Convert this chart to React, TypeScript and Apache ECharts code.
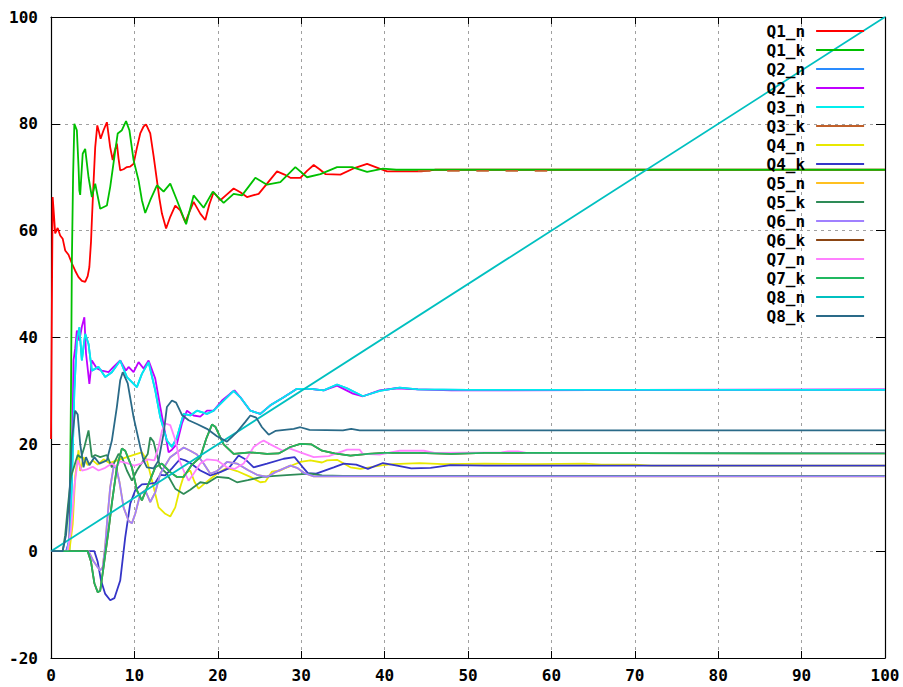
import React, { useEffect, useRef } from "react";
import * as echarts from "echarts";

const seriesNames = ["Q1_n", "Q1_k", "Q2_n", "Q2_k", "Q3_n", "Q3_k", "Q4_n", "Q4_k", "Q5_n", "Q5_k", "Q6_n", "Q6_k", "Q7_n", "Q7_k", "Q8_n", "Q8_k"];
const seriesColors = ["#ff0000", "#00c000", "#2a8cff", "#c000ff", "#00eeee", "#c0602a", "#e8e800", "#3535c8", "#ffc020", "#2e8b57", "#a080ff", "#8b4513", "#ff80ff", "#20b860", "#00c0c0", "#2a6a88"];

const xTicks = [0, 10, 20, 30, 40, 50, 60, 70, 80, 90, 100];
const yTicks = [-20, 0, 20, 40, 60, 80, 100];

const q1n = [[0,21],[0.1,45],[0.2,66.3],[0.35,63],[0.5,59.5],[0.8,60.5],[1.1,59.1],[1.4,58.5],[1.7,56.3],[2.1,55.5],[2.5,53.9],[2.9,52.5],[3.3,51.3],[3.7,50.6],[4.1,50.4],[4.4,51.5],[4.6,53.2],[4.8,58],[4.9,61.9],[5.1,69],[5.3,75.6],[5.55,79.7],[5.75,78.5],[5.95,77.2],[6.3,78.8],[6.7,80.3],[6.9,78],[7.1,75.6],[7.4,73.2],[7.65,75],[7.9,76.3],[8.1,73.5],[8.3,71.3],[8.7,71.5],[9.1,71.9],[9.5,72.0],[9.9,72.5],[10.3,75.5],[10.7,78.2],[11.1,79.5],[11.4,79.9],[11.9,78.2],[12.3,74],[12.7,69.4],[13.0,66],[13.3,63.2],[13.8,60.4],[14.3,62.6],[14.9,64.7],[15.5,63.8],[16.1,61.6],[16.6,63.5],[17.1,65.4],[17.9,63.2],[18.5,62.0],[19.0,65],[19.5,67.2],[20.3,65.7],[21.1,66.8],[21.9,67.9],[22.7,67.2],[23.5,66.3],[24.2,66.6],[24.9,66.9],[26.0,69],[27.1,71.1],[28.0,70.5],[28.7,69.9],[29.9,69.9],[30.7,71.2],[31.5,72.3],[32.2,71.5],[32.9,70.6],[34.7,70.5],[36.2,71.6],[37.9,72.5],[39.4,71.6],[40.3,71.1],[44.4,71.1],[46,71.4],[100,71.4]];
const q1k = [[0,0],[2.2,0],[2.4,30],[2.5,53.9],[2.65,70.4],[2.8,80],[3.1,78.8],[3.3,72],[3.4,67.5],[3.5,66.7],[3.8,74.4],[4.1,75.3],[4.5,70],[4.9,66.3],[5.3,68.8],[5.9,64.1],[6.7,64.7],[7.1,68.2],[7.6,73.8],[8.0,78.2],[8.5,78.8],[9.0,80.5],[9.4,78.8],[9.9,73.2],[10.5,69.4],[10.9,65.7],[11.3,63.3],[11.9,65.7],[12.7,68.5],[13.5,67.3],[14.3,68.8],[15.1,65.7],[16.2,61.2],[17.1,66.6],[18.3,64.3],[19.4,67.3],[20.7,65.2],[21.9,66.9],[22.9,66.6],[24.5,69.9],[25.9,68.6],[27.5,69.1],[29.3,71.9],[30.7,70],[32.3,70.6],[34.3,71.9],[36.1,71.9],[37.9,71],[39.8,71.6],[41.4,71.4],[100,71.4]];
const q2k = [[0,0],[1.8,0],[2.2,2],[2.5,15],[2.7,35.7],[2.9,38],[3.1,41.3],[3.4,39.4],[3.7,42],[4.0,43.8],[4.2,37],[4.6,31.3],[4.9,35.7],[5.5,34.2],[6.1,33.8],[6.9,33.5],[7.5,34.5],[8.3,35.7],[9.0,33.8],[9.3,34.5],[9.9,33.5],[10.5,35.4],[11.1,34.2],[11.7,35.7],[12.5,32.3],[13.1,27],[13.7,22],[14.1,18.5],[14.5,19.0],[15.1,20.1],[15.7,23.9],[16.3,26.3],[17.1,25.4],[17.9,25.2],[18.7,26.3],[19.5,26.3],[20.5,28.2],[21.5,29.5],[22.0,30.1],[22.7,28.8],[23.9,26.3],[25.1,25.7],[26.3,27.3],[27.9,28.8],[29.5,30.4],[31.1,30.4],[32.7,30.1],[34.3,31.0],[36.2,29.5],[37.4,29.0],[39.4,30.1],[41.4,30.5],[44,30.3],[48,30.1],[100,30.3]];
const q3n = [[0,0],[1.9,0],[2.3,3],[2.6,18],[2.8,30],[3.1,39.5],[3.4,41.9],[3.7,35.7],[4.1,40.7],[4.5,38.8],[4.9,33.8],[5.7,34.5],[6.5,32.6],[7.3,33.5],[8.3,35.7],[9.1,32.6],[10.3,30.7],[10.9,33.2],[11.7,35.4],[12.5,30.1],[13.1,25.1],[13.9,20.7],[14.5,19.5],[15.1,21.3],[15.9,25.7],[16.7,25.4],[17.5,26.3],[18.7,25.7],[19.5,26.3],[20.7,28.2],[21.9,30.0],[22.7,28.8],[23.9,26.3],[25.1,25.7],[26.3,27.3],[27.9,28.8],[29.5,30.4],[31.1,30.4],[32.7,30.1],[34.3,31.2],[35.5,30.5],[37.4,29.0],[39.4,30.0],[41.8,30.6],[44,30.3],[50,30.2],[100,30.2]];
const q2n = q3n;
const q3k = [[44,71.2],[45.5,71.2],[46,"-"],[47.5,71.2],[49,71.2],[49.5,"-"],[51,71.2],[52.5,71.2],[53,"-"],[54.5,71.2],[56,71.2],[56.5,"-"],[58,71.2],[59.5,71.2]];
const q4n = [[0,0],[2.2,0],[2.6,5],[2.9,14],[3.3,18.9],[3.5,15],[3.9,17.6],[4.4,16.1],[5.0,17.0],[5.6,16.2],[6.3,17.2],[7.0,16.5],[7.9,17],[9.1,17.6],[10.3,18.2],[10.9,18.5],[11.5,17],[12.3,12],[12.9,8.2],[13.7,7.0],[14.3,6.5],[14.9,8.2],[15.5,12],[16.0,14.5],[16.7,15.1],[17.2,13],[17.7,11.7],[18.3,12.5],[19.1,13.5],[19.9,14.5],[21.1,15.6],[22.3,15],[23.9,13.9],[25.1,12.9],[25.7,13.0],[26.5,14.9],[27.5,15.1],[28.3,15.7],[29.9,16.7],[31.1,17],[32.5,16.6],[33.1,17],[34.3,17.1],[35.9,15.7],[37.1,15.4],[39.8,16.1],[41,16.3],[44.2,16.5],[47,16.3],[52,16.4],[58,16.3],[64,16.4],[66,16.2],[70,16.2],[72,16.0],[100,16.0]];
const q4k = [[0,0],[5.2,0],[5.6,-2],[6.0,-5.5],[6.5,-8],[7.1,-9.2],[7.6,-8.8],[8.3,-5.5],[8.9,2.6],[9.5,8.9],[10.1,11.4],[10.9,12.5],[11.7,12.6],[12.5,12.8],[13.1,14.3],[13.7,14.2],[14.5,15.5],[15.5,17.3],[16.1,17.0],[16.7,16.5],[17.9,15.1],[19.1,14.2],[20.3,14.8],[21.3,15.5],[22.5,17.9],[23.3,17.2],[24.3,15.7],[25.9,16.4],[27.9,17.3],[29.2,17.6],[30.2,15.7],[30.8,14.6],[31.8,14.5],[33.9,15.7],[35.1,16.4],[36.6,16.2],[38,15.4],[39.8,16.5],[41.5,16.0],[43.2,15.5],[45.5,15.6],[47.9,16.1],[52,16.0],[100,16.0]];
const q5k = [[0,0],[1.4,0],[1.7,3],[2.0,8],[2.4,14],[2.8,16],[3.2,18],[3.6,17.5],[4.0,19.5],[4.5,22.6],[4.9,17.6],[5.3,18.0],[5.9,17.6],[6.7,18.0],[7.3,15.7],[8.1,18.2],[8.5,17.6],[9.1,15.1],[9.7,13.2],[10.3,15.1],[11.1,17],[11.6,18.2],[11.9,21.3],[12.3,20.5],[12.7,18],[13.1,15.7],[13.9,14.5],[14.9,11.7],[15.9,10.7],[16.7,11.5],[17.9,12.9],[18.7,12.7],[19.9,13.9],[21.3,13.7],[22.3,12.9],[23.6,13.3],[25.3,13.9],[26.9,14.1],[28.7,14.3],[31.1,14.5],[32.5,14.2],[35,14.1],[100,14.1]];
const q6n = [[0,0],[4.5,0],[5.1,-1.9],[5.6,-3.0],[5.9,-3.6],[6.2,-3.0],[6.5,1],[6.7,5],[7.1,12],[7.5,15.7],[7.8,15.8],[8.2,13],[8.7,8.2],[9.3,5.7],[9.7,5.2],[10.1,7],[10.7,10.7],[11.3,11.4],[11.9,9.2],[12.5,11],[13.1,14.5],[14.3,17.6],[15.9,19.4],[16.7,18.8],[17.5,18.1],[18.3,16.4],[19.1,14.5],[19.9,15],[21.1,16.7],[22.3,16.4],[23.6,15.2],[24.7,14.3],[25.9,13.9],[26.9,14.8],[28.7,16],[29.5,15.6],[30.4,14.6],[31.5,14.0],[34,14.0],[100,14.0]];
const q5n = q6n;
const q7n = [[0,0],[2.0,0],[2.4,4],[2.8,12],[3.2,17],[3.7,15.1],[4.3,15.3],[5.0,15.8],[5.7,15.1],[6.5,15.6],[7.3,16.4],[7.8,15.8],[8.3,16.8],[9.1,16.5],[10.0,16],[10.8,16.4],[11.6,17.2],[12.4,17],[12.9,19.5],[13.3,22.5],[13.7,23.9],[14.3,23.6],[14.8,21.3],[15.1,19.5],[15.4,17],[15.9,15.1],[16.5,13.2],[17.1,14.5],[17.9,16.4],[18.7,17.2],[19.9,17.0],[21.1,15.7],[22.0,15.4],[23.1,16.4],[24.3,19.5],[25.1,20.4],[25.5,20.7],[26.3,20.0],[27.8,18.8],[28.5,19.3],[29.9,18.5],[31.5,17.6],[33.3,17.8],[35.5,19.0],[37.0,19.0],[37.4,18.2],[39.5,18.1],[41.8,18.8],[44.7,18.8],[46,18.4],[54,18.5],[54.8,18.7],[56,18.7],[57,18.4],[100,18.4]];
const q7k = [[0,0],[4.4,0],[4.8,-2],[5.2,-6],[5.6,-7.7],[5.9,-7.4],[6.3,-3],[6.9,3.9],[7.3,9],[7.9,15.7],[8.5,19.2],[8.9,18.8],[9.7,15.7],[10.3,11.4],[10.9,9.5],[11.7,12.6],[12.5,15.7],[13.3,16.4],[14.3,14.8],[15.1,13.9],[15.9,13.9],[16.8,16],[17.9,17.6],[18.6,21],[19.3,23.7],[19.7,23.3],[20.7,20],[21.9,18.2],[23.9,18.5],[25.9,18.2],[27.3,18.3],[28.7,19.5],[29.9,20.1],[31.2,20.0],[32.5,18.8],[34,18.3],[35.9,17.9],[38,18.2],[40,18.4],[44,18.4],[48,18.2],[52,18.4],[100,18.3]];
const q6k = q7k;
const q8n = [[0,0],[100,100]];
const q8k = [[0,0],[1.4,0],[1.8,3],[2.2,10],[2.5,20.7],[2.9,26.3],[3.2,25.6],[3.5,20.1],[3.9,15.7],[4.2,17.6],[4.6,16.1],[5.2,17.6],[5.8,16.4],[6.7,17],[7.3,20.7],[7.9,27],[8.3,32],[8.6,33.5],[9.2,31.4],[9.9,25.1],[10.7,19.5],[11.1,17],[11.5,15.7],[12.3,15.5],[12.9,17],[13.5,22],[13.9,27],[14.5,28.2],[15.0,27.8],[15.7,25.5],[16.5,24.5],[17.5,23.8],[18.7,22.9],[19.9,21.5],[21.1,20.5],[22.3,22.3],[23.3,24.2],[23.9,25.4],[24.6,25.0],[25.3,23.2],[26.1,21.8],[26.9,22.5],[29.1,22.9],[29.9,23.2],[31,22.7],[35,22.6],[36,22.9],[37,22.6],[100,22.6]];

const seriesData = [q1n, q1k, q2n, q2k, q3n, q3k, q4n, q4k, q5n, q5k, q6n, q6k, q7n, q7k, q8n, q8k];

const FONT = "'DejaVu Sans Mono', 'Liberation Mono', monospace";

export default function App() {
  const ref = useRef<HTMLDivElement>(null);
  useEffect(() => {
    if (!ref.current) return;
    const chart = echarts.init(ref.current, null, { renderer: "svg" });
    const labelStyle = { fontFamily: FONT, fontWeight: "bold", fontSize: 16, color: "#000" };
    const mirrorAxisCommon = {
      type: "value",
      axisLabel: { show: false },
      splitLine: { show: false },
      axisLine: { show: true, onZero: false, lineStyle: { color: "#000", width: 1.2 } },
    };
    chart.setOption({
      animation: false,
      backgroundColor: "#ffffff",
      grid: { left: 51, right: 18, top: 17, bottom: 29, containLabel: false },
      legend: {
        orient: "vertical",
        top: 18,
        right: 33,
        align: "right",
        itemWidth: 48,
        itemHeight: 14,
        itemGap: 3,
        z: 10,
        selectedMode: false,
        data: seriesNames.map((name, i) => ({
          name,
          lineStyle: { type: "solid", color: seriesColors[i], width: 1.8 },
        })),
        itemStyle: { opacity: 0 },
        textStyle: { ...labelStyle, lineHeight: 14, padding: [0, 6, 0, 0] },
      },
      xAxis: [
        {
          type: "value",
          min: xTicks[0],
          max: xTicks[xTicks.length - 1],
          interval: 10,
          position: "bottom",
          axisLine: { show: true, onZero: false, lineStyle: { color: "#000", width: 1.2 } },
          axisTick: { show: true, inside: true, length: 7, lineStyle: { color: "#000" } },
          axisLabel: { ...labelStyle, margin: 9 },
          splitLine: { show: true, lineStyle: { color: "#a0a0a0", type: [3, 4], width: 1 } },
        },
        {
          ...mirrorAxisCommon,
          min: xTicks[0],
          max: xTicks[xTicks.length - 1],
          interval: 10,
          position: "top",
          axisTick: { show: true, inside: true, length: 7, lineStyle: { color: "#000" } },
        },
      ],
      yAxis: [
        {
          type: "value",
          min: yTicks[0],
          max: yTicks[yTicks.length - 1],
          interval: 20,
          position: "left",
          axisLine: { show: true, onZero: false, lineStyle: { color: "#000", width: 1.2 } },
          axisTick: { show: true, inside: true, length: 9, lineStyle: { color: "#000" } },
          axisLabel: { ...labelStyle, margin: 13 },
          splitLine: { show: true, lineStyle: { color: "#a0a0a0", type: [3, 4], width: 1 } },
        },
        {
          ...mirrorAxisCommon,
          min: yTicks[0],
          max: yTicks[yTicks.length - 1],
          interval: 20,
          position: "right",
          axisTick: { show: true, inside: true, length: 9, lineStyle: { color: "#000" } },
        },
      ],
      series: seriesNames.map((name, i) => ({
        name,
        type: "line",
        data: seriesData[i],
        symbol: "none",
        showSymbol: false,
        connectNulls: false,
        color: seriesColors[i],
        lineStyle: { color: seriesColors[i], width: 1.8 },
        emphasis: { disabled: true },
        z: 2 + i * 0.01,
      })),
    });
    return () => chart.dispose();
  }, []);
  return (
    <div
      ref={ref}
      style={{ position: "fixed", left: 0, top: 0, width: 903, height: 687, background: "#fff" }}
    />
  );
}
